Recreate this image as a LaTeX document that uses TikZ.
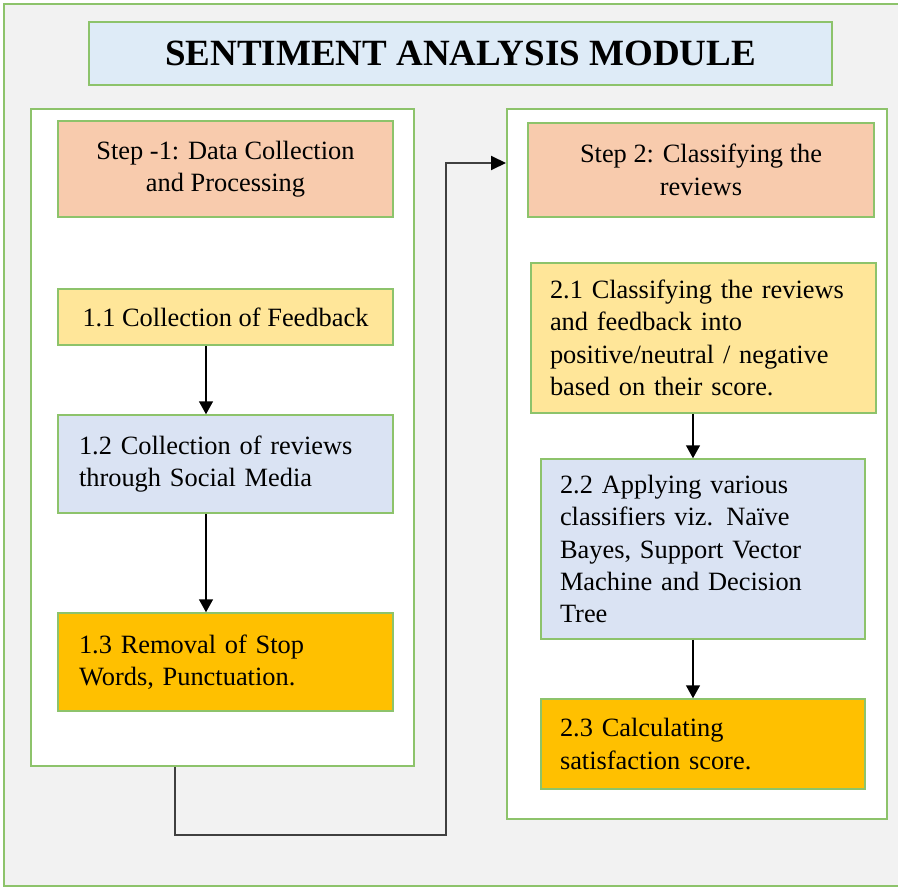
\documentclass[tikz,border=0pt]{standalone}
\usepackage{fontspec}
\setmainfont{Liberation Serif}
\usetikzlibrary{arrows.meta}

\definecolor{grn}{HTML}{8DC36B}
\definecolor{bgray}{HTML}{F2F2F2}
\definecolor{titleblue}{HTML}{DEEBF7}
\definecolor{peach}{HTML}{F8CBAD}
\definecolor{lightyellow}{HTML}{FFE699}
\definecolor{paleblue}{HTML}{DAE3F3}
\definecolor{amber}{HTML}{FFC000}
\definecolor{darkline}{HTML}{404040}

\newcommand{\bodyfont}{\fontsize{26.4}{32.4}\selectfont}

\tikzset{
  panel/.style={draw=grn, line width=2pt, fill=white, inner sep=0pt},
  box/.style={draw=grn, line width=1.5pt, inner sep=0pt, font=\bodyfont},
  cbox/.style={box, align=center},
  lbox/.style={box, align=left, inner xsep=#1},
  flow/.style={draw=black, line width=1.5pt,
    -{Triangle[length=13pt,width=14pt]}},
  link/.style={draw=darkline, line width=2pt, line join=miter,
    -{Triangle[length=15pt,width=14pt,color=black]}}
}

\begin{document}
\begin{tikzpicture}[x=1pt,y=-1pt]
  \useasboundingbox (0,0) rectangle (898,888);
  \fill[white] (0,0) rectangle (898,888);

  % outer frame
  \draw[grn, line width=2pt, fill=bgray] (4,4) rectangle (900,886);

  % title
  \node[draw=grn, line width=2pt, fill=titleblue, minimum width=743pt,
        minimum height=63pt, inner sep=0pt,
        font=\fontsize{37}{40}\selectfont\bfseries]
        (title) at (460.5,53.5) {SENTIMENT ANALYSIS MODULE};

  % the two step panels
  \node[panel, minimum width=383pt, minimum height=657pt] (lp) at (222,437.5) {};
  \node[panel, minimum width=380pt, minimum height=710pt] (rp) at (697,464) {};

  % step 1
  \node[cbox, fill=peach, minimum width=335pt, minimum height=96pt]
    (s1) at (225.5,169) {Step -1: Data Collection\\and Processing};
  \node[cbox, fill=lightyellow, minimum width=335pt, minimum height=56pt]
    (n11) at (225.5,317) {1.1 Collection of Feedback};
  \node[lbox=21pt, fill=paleblue, text width=293pt, minimum height=98pt]
    (n12) at (225.5,464) {1.2 Collection of reviews\\through Social Media};
  \node[lbox=21pt, fill=amber, text width=293pt, minimum height=98pt]
    (n13) at (225.5,662) {1.3 Removal of Stop\\Words, Punctuation.};

  % step 2
  \node[cbox, fill=peach, minimum width=346pt, minimum height=94pt]
    (s2) at (701,170) {Step 2: Classifying the\\reviews};
  \node[lbox=19pt, fill=lightyellow, text width=307pt, minimum height=150pt]
    (n21) at (703.5,338) {2.1 Classifying the reviews\\and feedback into\\positive/neutral / negative\\based on their score.};
  \node[lbox=19pt, fill=paleblue, text width=286pt, minimum height=180pt]
    (n22) at (703,549) {2.2 Applying various\\classifiers viz. Naïve\\Bayes, Support Vector\\Machine and Decision\\Tree};
  \node[lbox=19pt, fill=amber, text width=286pt, minimum height=90pt]
    (n23) at (703,744) {2.3 Calculating\\satisfaction score.};

  % arrow columns
  \coordinate (lx) at (206,0);
  \coordinate (rx) at (693,0);
  \draw[flow] (n11.south -| lx) -- (n12.north -| lx);
  \draw[flow] (n12.south -| lx) -- (n13.north -| lx);
  \draw[flow] (n21.south -| rx) -- (n22.north -| rx);
  \draw[flow] (n22.south -| rx) -- (n23.north -| rx);

  % link from step 1 to step 2
  \coordinate (ca) at (175,835);
  \coordinate (cb) at (446,163);
  \draw[link] (lp.south -| ca) -- (ca) -| (cb) -- (rp.west |- cb);
\end{tikzpicture}
\end{document}
